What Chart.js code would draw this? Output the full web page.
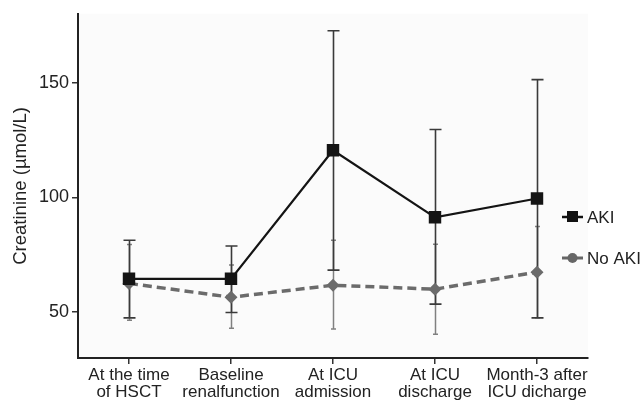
<!DOCTYPE html>
<html>
<head>
<meta charset="utf-8">
<script src="https://cdn.jsdelivr.net/npm/chart.js@4"></script>
<style>
  html, body { margin: 0; padding: 0; background: #fff; }
  #wrap { width: 641px; height: 404px; }
</style>
</head>
<body>
<div id="wrap"><canvas id="chart" width="641" height="404"></canvas></div>
<script>
const categories = [
    ['At the time', 'of HSCT'],
    ['Baseline', 'renalfunction'],
    ['At ICU', 'admission'],
    ['At ICU', 'discharge'],
    ['Month-3 after', 'ICU dicharge']
];
const akiMean = [64.5, 64.5, 120.5, 91.3, 99.5];
const akiLow = [47.5, 49.8, 68.3, 53.5, 47.5];
const akiHigh = [81.3, 78.8, 172.6, 129.6, 151.3];
const noAkiMean = [62.5, 56.5, 61.7, 60, 67.4];
const noAkiLow = [46.5, 43, 42.6, 40.4, 47.5];
const noAkiHigh = [79.5, 70.5, 81.3, 79.6, 87.3];
const yTicks = [50, 100, 150];

const FONT = '"Liberation Sans", Arial, Helvetica, sans-serif';

// error bars, drawn behind the lines and markers
const errorBars = {
    id: 'errorBars',
    beforeDatasetsDraw(chart) {
        const ctx = chart.ctx;
        const x = chart.scales.x;
        const y = chart.scales.y;
        const sets = [
            {low: noAkiLow, high: noAkiHigh, color: '#808080', cap: 2.5, w: 1.5},
            {low: akiLow, high: akiHigh, color: '#3a3a3a', cap: 6, w: 1.6}
        ];
        ctx.save();
        sets.forEach((s) => {
            ctx.strokeStyle = s.color;
            ctx.lineWidth = s.w;
            s.low.forEach((lo, i) => {
                const px = Math.round(x.getPixelForValue(i)) + 0.5;
                const yl = y.getPixelForValue(lo);
                const yh = y.getPixelForValue(s.high[i]);
                ctx.beginPath();
                ctx.moveTo(px, yl);
                ctx.lineTo(px, yh);
                ctx.moveTo(px - s.cap, yl);
                ctx.lineTo(px + s.cap, yl);
                ctx.moveTo(px - s.cap, yh);
                ctx.lineTo(px + s.cap, yh);
                ctx.stroke();
            });
        });
        ctx.restore();
    }
};

const panelBg = {
    id: 'panelBg',
    beforeDraw(chart) {
        const a = chart.chartArea;
        chart.ctx.save();
        chart.ctx.fillStyle = '#fbfbfb';
        chart.ctx.fillRect(a.left, a.top, a.right - a.left, a.bottom - a.top);
        chart.ctx.restore();
    }
};

// legend drawn over the right edge of the panel, as in the figure
const sideLegend = {
    id: 'sideLegend',
    afterDraw(chart) {
        const ctx = chart.ctx;
        ctx.save();
        ctx.font = '17px ' + FONT;
        ctx.textBaseline = 'middle';

        ctx.strokeStyle = '#111';
        ctx.lineWidth = 2.5;
        ctx.beginPath();
        ctx.moveTo(562, 217);
        ctx.lineTo(583, 217);
        ctx.stroke();
        ctx.fillStyle = '#111';
        ctx.fillRect(567, 211, 11, 11);
        ctx.fillStyle = '#222';
        ctx.fillText('AKI', 587, 218);

        ctx.strokeStyle = '#666';
        ctx.lineWidth = 3;
        ctx.beginPath();
        ctx.moveTo(562, 258);
        ctx.lineTo(583, 258);
        ctx.stroke();
        ctx.fillStyle = '#666';
        ctx.beginPath();
        ctx.arc(572.5, 258, 5, 0, Math.PI * 2);
        ctx.fill();
        ctx.fillStyle = '#222';
        ctx.fillText('No AKI', 587, 259);
        ctx.restore();
    }
};

const ctx = document.getElementById('chart').getContext('2d');
new Chart(ctx, {
    type: 'line',
    data: {
        labels: categories,
        datasets: [
            {
                label: 'No AKI',
                data: noAkiMean,
                borderColor: '#6b6b6b',
                backgroundColor: '#6b6b6b',
                borderWidth: 3.5,
                borderDash: [9, 5],
                pointStyle: 'rectRot',
                pointRadius: 6.5,
                pointBorderWidth: 0,
                tension: 0,
                order: 2
            },
            {
                label: 'AKI',
                data: akiMean,
                borderColor: '#141414',
                backgroundColor: '#141414',
                borderWidth: 2.2,
                pointStyle: 'rect',
                pointRadius: 8.8,
                pointBorderWidth: 0,
                tension: 0,
                order: 1
            }
        ]
    },
    options: {
        responsive: false,
        animation: false,
        events: [],
        layout: {padding: {top: 13, right: 53, left: 0, bottom: 0}},
        plugins: {
            legend: {display: false},
            tooltip: {enabled: false}
        },
        scales: {
            x: {
                offset: true,
                grid: {
                    display: true,
                    drawOnChartArea: false,
                    drawTicks: true,
                    tickLength: 6,
                    offset: false,
                    color: '#333',
                    lineWidth: 1.5
                },
                border: {display: true, color: '#222', width: 2},
                ticks: {
                    color: '#222',
                    font: {family: FONT, size: 17, lineHeight: 1.05},
                    padding: 2,
                    maxRotation: 0,
                    autoSkip: false
                },
                afterFit(scale) {
                    scale.height = 46;
                }
            },
            y: {
                min: 30,
                max: 180,
                afterBuildTicks(scale) {
                    scale.ticks = yTicks.map((v) => ({value: v}));
                },
                grid: {
                    display: true,
                    drawOnChartArea: false,
                    drawTicks: true,
                    tickLength: 6,
                    color: '#333',
                    lineWidth: 1.5
                },
                border: {display: true, color: '#222', width: 2},
                ticks: {
                    color: '#222',
                    font: {family: FONT, size: 18},
                    padding: 3
                },
                title: {
                    display: true,
                    text: 'Creatinine (µmol/L)',
                    color: '#222',
                    font: {family: FONT, size: 18.5},
                    padding: {top: 10, bottom: 0}
                },
                afterFit(scale) {
                    scale.width = 78;
                }
            }
        }
    },
    plugins: [panelBg, errorBars, sideLegend]
});
</script>
</body>
</html>
